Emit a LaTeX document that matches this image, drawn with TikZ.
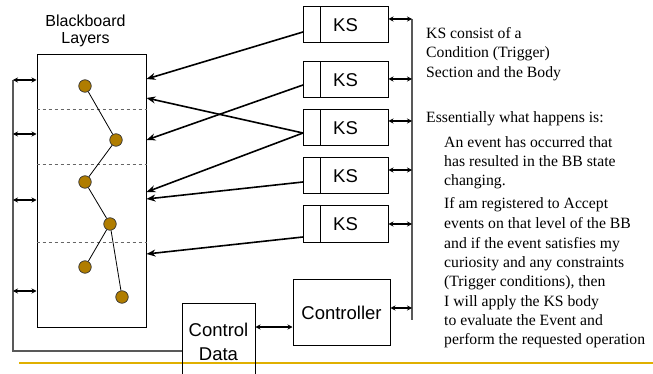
\documentclass[tikz,border=0pt]{standalone}
\usepackage{fontspec}
\setmainfont{Liberation Serif}
\setsansfont{Liberation Sans}
\usetikzlibrary{arrows.meta}
\definecolor{dot}{HTML}{B07D00}
\definecolor{ruleyellow}{HTML}{E0B000}
\begin{document}
\begin{tikzpicture}[x=1pt,y=-1pt,
 box/.style={draw, line width=1pt, inner sep=0},
 ksbox/.style={box, minimum width=85pt, minimum height=36pt, font=\sffamily\fontsize{18.5}{20}\selectfont},
 bbdot/.style={circle, fill=dot, draw=black!80, line width=0.7pt, minimum size=12.5pt, inner sep=0},
 feed/.style={line width=1.6pt, -{Stealth[length=9pt,width=7pt]}},
 bus/.style={line width=1.4pt, draw=black!65},
 dbl/.style={line width=1.1pt, {Stealth[length=5pt,width=5pt]}-{Stealth[length=5pt,width=5pt]}},
 para/.style={anchor=base west, inner sep=0, font=\fontsize{15.7}{19}\selectfont},
 lbl/.style={anchor=base, inner sep=0, font=\sffamily\fontsize{16}{18}\selectfont},
 big/.style={anchor=base, inner sep=0, font=\sffamily\fontsize{18.5}{20}\selectfont}
]
\useasboundingbox (0,0) rectangle (653,374);

% bottom rule
\draw[ruleyellow, line width=1.3pt] (19,363) coordinate (g1) -- (653,363) coordinate (g2);

% blackboard
\node[box, minimum width=109pt, minimum height=272pt] (bb) at (91.5,191) {};
\foreach \y in {109,164,242}
  \draw[dashed, black!60, line width=0.9pt] (bb.west |- 0,\y) -- (bb.east |- 0,\y);
\node[lbl] (t1) at (85.5,27) {Blackboard};
\node[lbl] (t2) at (85.5,44) {Layers};

% dots
\node[bbdot] (d1) at (85,86) {};
\node[bbdot] (d2) at (116,140) {};
\node[bbdot] (d3) at (85,182) {};
\node[bbdot] (d4) at (110,224) {};
\node[bbdot] (d5) at (85,267) {};
\node[bbdot] (d6) at (122,297) {};
\draw[line width=0.8pt] (d1) -- (d2);
\draw[line width=0.8pt] (d2) -- (d3);
\draw[line width=0.8pt] (d3) -- (d4);
\draw[line width=0.8pt] (d4) -- (d5);
\draw[line width=0.8pt] (d4) -- (d6);

% KS boxes
\foreach \n/\y in {1/25,2/80,3/128,4/176,5/224}{
  \node[ksbox] (ks\n) at (345.5,\y) {KS};
  \draw[line width=1pt] ([xshift=18pt]ks\n.north west) -- ([xshift=18pt]ks\n.south west);
}

% feeds from KS to blackboard
\coordinate (s1) at (303,32);
\coordinate (s2) at (303,85);
\coordinate (s3) at (303,133);
\coordinate (s4) at (303,182);
\coordinate (s5) at (303,237);
\draw[feed] (s1) -- (bb.east |- 0,79);
\draw[feed] (s2) -- (bb.east |- 0,140);
\draw[feed] (s3) -- (bb.east |- 0,98);
\draw[feed] (s3) -- (bb.east |- 0,192);
\draw[feed] (s4) -- (bb.east |- 0,199);
\draw[feed] (s5) -- (bb.east |- 0,254);

% controller and control data
\node[box, minimum width=97pt, minimum height=66pt] (ctl) at (341.5,312) {};
\node[big] (ctlt) at (341.5,319) {Controller};
\node[box, minimum width=73pt, minimum height=77pt] (cd) at (218.5,341.5) {};
\node[big] (cdt1) at (218.5,336) {Control};
\node[big] (cdt2) at (218.5,360) {Data};
\draw[dbl] (cd.east |- 0,327) -- (ctl.west |- 0,327);

% right bus
\coordinate (rt) at (412,19);
\coordinate (rb) at (412,320);
\draw[bus] (rt) -- (rb);
\draw[dbl] (ks1.east |- 0,19) -- (rt |- 0,19);
\draw[dbl] (ks2.east |- 0,79) -- (rt |- 0,79);
\draw[dbl] (ks3.east |- 0,121) -- (rt |- 0,121);
\draw[dbl] (ks4.east |- 0,170) -- (rt |- 0,170);
\draw[dbl] (ks5.east |- 0,224) -- (rt |- 0,224);
\draw[dbl] (ctl.east |- 0,308) -- (rt |- 0,308);

% left bus
\coordinate (lt) at (13,80);
\coordinate (lb) at (13,351);
\draw[bus] (lt) -- (lb) -- (cd.west |- lb);
\foreach \y in {80,134,200,291}
  \draw[dbl] (lt |- 0,\y) -- (bb.west |- 0,\y);

% explanatory text
\node[para] (p1) at (426,39) {KS consist of a};
\node[para] (p2) at (426,58) {Condition (Trigger)};
\node[para] (p3) at (426,77.5) {Section and the Body};
\node[para] (p4) at (426,123) {Essentially what happens is:};
\node[para] (p5) at (444,148) {An event has occurred that};
\node[para] (p6) at (444,167) {has resulted in the BB state};
\node[para] (p7) at (444,185.5) {changing.};
\node[para] (p8) at (444,209) {If am registered to Accept};
\node[para] (p9) at (444,228.5) {events on that level of the BB};
\node[para] (p10) at (444,248) {and if the event satisfies my};
\node[para] (p11) at (444,267) {curiosity and any constraints};
\node[para] (p12) at (444,286.5) {(Trigger conditions), then};
\node[para] (p13) at (444,306) {I will apply the KS body};
\node[para] (p14) at (444,325) {to evaluate the Event and};
\node[para] (p15) at (444,344) {perform the requested operation};
\end{tikzpicture}
\end{document}
